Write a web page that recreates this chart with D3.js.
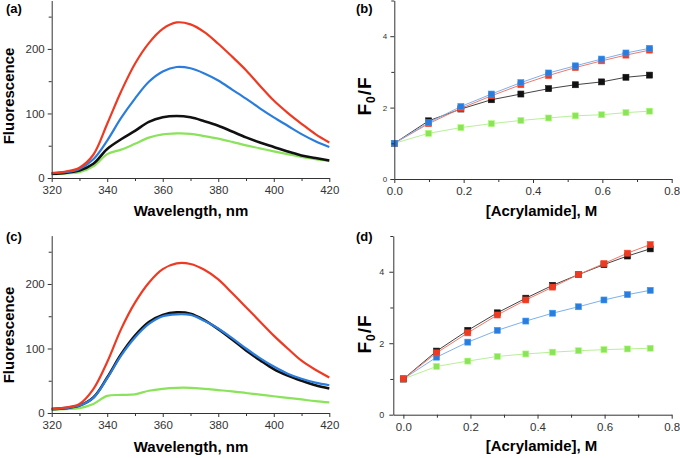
<!DOCTYPE html>
<html><head><meta charset="utf-8">
<script src="https://cdn.jsdelivr.net/npm/d3@7"></script>
<style>body{margin:0;background:#fff}svg{display:block}</style>
</head><body><svg id="chart" width="680" height="458"></svg>
<script>
// ---------- DATA ----------
const wavelengths = [320,325,330,335,340,345,350,355,360,365,370,375,380,385,390,395,400,405,410,415,420];
const aRed   = [7.5,10,16,36,84,134,177,209,231,241,238,226,208,188,167,143,120,101,84,68,55];
const aBlue  = [7.5,9,14,29,58,93,123,149,165,172,170,162,151,137,123,108,94,81,68,57,48];
const aBlack = [6.5,8,11.5,22,45,60,73,87,94,96,94,88,81,72,63,55,48,41,35,31,27];
const aGreen = [5.4,7,9,18,37,44,53,62.5,67.5,69,68.5,65,61,56,50.6,46,41.3,37,32.5,29,26];
const cRed   = [6.5,8.5,14,37,79,130,171,202,223,232,231,222,207,186,164,142,120,100,81,67,55];
const cBlack = [6,7.5,11.5,24,55,91,120,141,152,156,154,144,130,114,97,82,68,58,50,43,38];
const cBlue  = [6,7.5,11.5,23.5,54,89,117,138,150,153,152,143,131,116,100,85,72,61,53,47,43];
const cGreen = [5.2,6,7.5,14,26.5,28,29,34.5,37.5,39,39,37.5,35.5,33.5,31,28.5,26,23.5,21,18.5,16.5];

const acrylamide = [0,0.099,0.192,0.28,0.365,0.445,0.522,0.598,0.668,0.736];
const bBlue  = [1.0,1.58,2.03,2.38,2.70,2.97,3.17,3.36,3.53,3.66];
const bRed   = [1.0,1.55,1.98,2.33,2.64,2.90,3.12,3.31,3.47,3.61];
const bBlack = [1.0,1.63,1.96,2.22,2.38,2.53,2.64,2.72,2.85,2.91];
const bGreen = [1.0,1.28,1.44,1.55,1.64,1.71,1.77,1.80,1.86,1.90];
const dRed   = [1.0,1.73,2.29,2.79,3.21,3.57,3.92,4.23,4.52,4.76];
const dBlack = [1.0,1.78,2.36,2.85,3.26,3.62,3.92,4.20,4.44,4.64];
const dBlue  = [1.0,1.61,2.03,2.36,2.62,2.84,3.02,3.21,3.36,3.48];
const dGreen = [1.0,1.35,1.50,1.63,1.70,1.75,1.79,1.82,1.84,1.86];

const wlMajor = [320,340,360,380,400,420];
const wlMinor = [330,350,370,390,410];
const fluoMajor = [0,100,200];
const fluoMinor = [50,150,250];
const concMajor = [0,0.2,0.4,0.6,0.8];
const concMinor = [0.1,0.3,0.5,0.7];
const ratioMajor = [0,2,4];
const ratioMinor = [1,3,5];

const COL = {red:"#ee3a22", blue:"#2a7ddc", black:"#111111", green:"#8ae35a"};
const LINECOL = {red:"#f07a6a", blue:"#7fb0ea", black:"#444444", green:"#b8ef98"};
const FONT = "'Liberation Sans', Arial, Helvetica, sans-serif";

const svg = d3.select("#chart");

function drawAxes(g, x, y, o) {
  const ax = g.append("g").attr("transform", `translate(0,${y.range()[0]})`)
    .call(d3.axisBottom(x).tickValues(o.xMajor).tickSize(4).tickSizeOuter(0).tickPadding(4).tickFormat(o.xFmt));
  g.append("g").attr("transform", `translate(0,${y.range()[0]})`)
    .call(d3.axisBottom(x).tickValues(o.xMinor).tickSize(3).tickSizeOuter(0).tickFormat(""))
    .call(s => s.select(".domain").remove());
  const ay = g.append("g").attr("transform", `translate(${x.range()[0]},0)`)
    .call(d3.axisLeft(y).tickValues(o.yMajor).tickSize(4).tickSizeOuter(0).tickPadding(o.yPad).tickFormat(d3.format("d")));
  g.append("g").attr("transform", `translate(${x.range()[0]},0)`)
    .call(d3.axisLeft(y).tickValues(o.yMinor).tickSize(3).tickSizeOuter(0).tickFormat(""))
    .call(s => s.select(".domain").remove());
  g.selectAll(".domain, .tick line").attr("stroke", "#333").attr("stroke-width", 1);
  ax.selectAll("text").attr("font-family", FONT).attr("font-size", 11.5).attr("fill", "#333");
  ay.selectAll("text").attr("font-family", FONT).attr("font-size", o.yFont).attr("fill", "#333");
}

function label(g, txt, x, y) {
  g.append("text").attr("x", x).attr("y", y).attr("font-family", FONT)
    .attr("font-weight", "bold").attr("font-size", 13).text(txt);
}

function xTitle(g, txt, x, y) {
  g.append("text").attr("x", x).attr("y", y).attr("text-anchor", "middle")
    .attr("font-family", FONT).attr("font-weight", "bold").attr("font-size", 15).text(txt);
}

function spectrumPanel(tag, yTop, yBottom, series, labelY, titleY, yTitleCY) {
  const g = svg.append("g");
  const x = d3.scaleLinear().domain([320, 420]).range([51.7, 329.3]);
  const y = d3.scaleLinear().domain([0, 275]).range([yBottom, yTop]);
  const line = d3.line().x((d, i) => x(wavelengths[i])).y(d => y(d)).curve(d3.curveCatmullRom);
  series.forEach(s => {
    g.append("path").attr("d", line(s.v)).attr("fill", "none")
      .attr("stroke", COL[s.c]).attr("stroke-width", s.c === "black" ? 2.6 : 2.2);
  });
  drawAxes(g, x, y, {xMajor: wlMajor, xMinor: wlMinor, xFmt: d3.format("d"),
    yMajor: fluoMajor, yMinor: fluoMinor, yPad: 3, yFont: 11.5});
  label(g, tag, 6, labelY);
  xTitle(g, "Wavelength, nm", 191, titleY);
  g.append("text").attr("transform", `translate(13.5,${yTitleCY}) rotate(-90)`)
    .attr("text-anchor", "middle").attr("font-family", FONT).attr("font-weight", "bold")
    .attr("font-size", 15).text("Fluorescence");
}

function quenchPanel(tag, xDom, xRange, yTop, yBottom, series, labelY, titleY, yTitleCY, yFont, yPad) {
  const g = svg.append("g");
  const x = d3.scaleLinear().domain(xDom).range(xRange);
  const y = d3.scaleLinear().domain([0, 5]).range([yBottom, yTop]);
  const line = d3.line().x((d, i) => x(acrylamide[i])).y(d => y(d));
  series.forEach(s => {
    g.append("path").attr("d", line(s.v)).attr("fill", "none")
      .attr("stroke", LINECOL[s.c]).attr("stroke-width", 1);
  });
  series.forEach(s => {
    g.append("g").selectAll("rect").data(s.v).join("rect")
      .attr("x", (d, i) => x(acrylamide[i]) - 3).attr("y", d => y(d) - 3)
      .attr("width", 6).attr("height", 6).attr("fill", COL[s.c])
      .attr("stroke", d3.color(COL[s.c]).brighter(0.6)).attr("stroke-width", 0.6);
  });
  drawAxes(g, x, y, {xMajor: concMajor, xMinor: concMinor, xFmt: d3.format(".1f"),
    yMajor: ratioMajor, yMinor: ratioMinor, yPad: yPad, yFont: yFont});
  label(g, tag, 356, labelY);
  xTitle(g, "[Acrylamide], M", 541.5, titleY);
  const t = g.append("text").attr("transform", `translate(370.5,${yTitleCY}) rotate(-90)`)
    .attr("text-anchor", "middle").attr("font-family", FONT).attr("font-weight", "bold")
    .attr("font-size", 19).attr("letter-spacing", 1);
  t.append("tspan").text("F");
  t.append("tspan").attr("dy", 4).attr("font-size", 12).text("0");
  t.append("tspan").attr("dy", -4).text("/F");
}

spectrumPanel("(a)", 0.5, 178, [
  {c: "green", v: aGreen}, {c: "black", v: aBlack}, {c: "blue", v: aBlue}, {c: "red", v: aRed}
], 13, 216, 96);

spectrumPanel("(c)", 235.6, 413, [
  {c: "green", v: cGreen}, {c: "black", v: cBlack}, {c: "blue", v: cBlue}, {c: "red", v: cRed}
], 241, 451.5, 335);

quenchPanel("(b)", [0, 0.8], [394.3, 671.7], 0.5, 179, [
  {c: "green", v: bGreen}, {c: "black", v: bBlack}, {c: "red", v: bRed}, {c: "blue", v: bBlue}
], 13, 216, 96, 8, 3);

quenchPanel("(d)", [-0.03, 0.8], [393.3, 671.7], 236, 414.7, [
  {c: "green", v: dGreen}, {c: "blue", v: dBlue}, {c: "black", v: dBlack}, {c: "red", v: dRed}
], 241, 450.5, 334, 9, 5);
</script>
</body></html>
